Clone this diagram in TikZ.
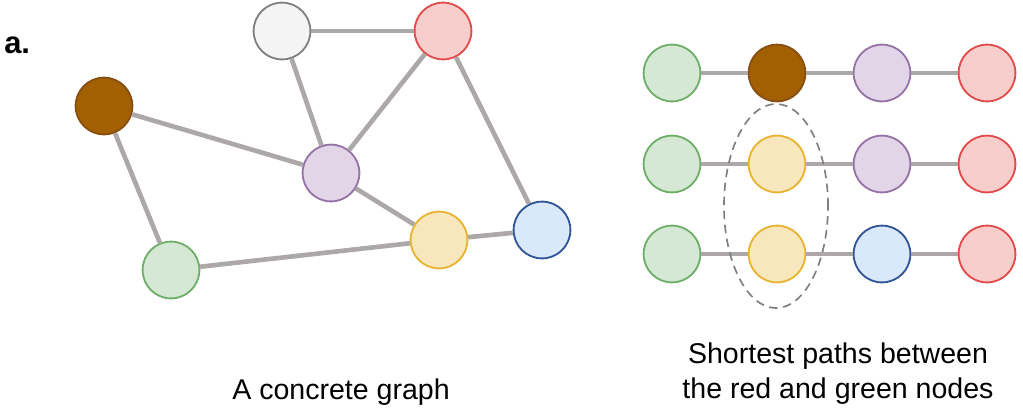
\documentclass[tikz,border=0pt]{standalone}
\usepackage{fontspec}
\setmainfont{Liberation Sans}
\usepackage{tikz}
\usetikzlibrary{positioning}

\definecolor{edgegray}{RGB}{172,168,168}
\definecolor{gryfill}{HTML}{F4F4F4}
\definecolor{gryline}{HTML}{808080}
\definecolor{redfill}{HTML}{F8CECC}
\definecolor{redline}{HTML}{E24B4B}
\definecolor{brnfill}{HTML}{A36000}
\definecolor{brnline}{HTML}{875012}
\definecolor{purfill}{HTML}{E1D5E7}
\definecolor{purline}{HTML}{9673A6}
\definecolor{ylwfill}{HTML}{F8E7BD}
\definecolor{ylwline}{HTML}{E8B330}
\definecolor{blufill}{HTML}{DAE8FC}
\definecolor{bluline}{HTML}{2F5597}
\definecolor{grnfill}{HTML}{D5E8D4}
\definecolor{grnline}{HTML}{6FAE69}

\begin{document}
\begin{tikzpicture}[
    x=0.025cm, y=-0.025cm,
    vtx/.style={circle, minimum size=1.42cm, inner sep=0pt, line width=1.3pt},
    gry/.style={vtx, fill=gryfill, draw=gryline},
    red/.style={vtx, fill=redfill, draw=redline},
    brn/.style={vtx, fill=brnfill, draw=brnline},
    pur/.style={vtx, fill=purfill, draw=purline},
    ylw/.style={vtx, fill=ylwfill, draw=ylwline},
    blu/.style={vtx, fill=blufill, draw=bluline},
    grn/.style={vtx, fill=grnfill, draw=grnline},
    edge/.style={line width=3.3pt, draw=edgegray},
    grp/.style={line width=1.2pt, draw=gryline, dash pattern=on 6pt off 4pt},
    lbl/.style={font=\fontsize{20.3}{24.9}\selectfont, inner sep=0pt},
]
\useasboundingbox (0,0) rectangle (1023,410);

% Panel tag
\node[lbl, font=\fontsize{22}{26}\selectfont\bfseries, anchor=base west] (tag) at (4,53) {a.};

% --- Left: the concrete graph ---
\node[gry] (gG) at (282,31) {};
\node[red] (gR) at (443,31) {};
\node[brn] (gB) at (104,106) {};
\node[pur] (gP) at (331,173) {};
\node[ylw] (gY) at (439,240) {};
\node[blu] (gL) at (542,230) {};
\node[grn] (gN) at (171,270) {};

\draw[edge] (gG) -- (gR);
\draw[edge] (gG) -- (gP);
\draw[edge] (gR) -- (gP);
\draw[edge] (gR) -- (gL);
\draw[edge] (gB) -- (gP);
\draw[edge] (gB) -- (gN);
\draw[edge] (gP) -- (gY);
\draw[edge] (gN) -- (gY);
\draw[edge] (gY) -- (gL);

\node[lbl, anchor=base] (lcap) at (341,399) {A concrete graph};

% --- Right: shortest paths, one per row ---
\foreach \row/\y/\mid/\third in {1/73/brn/pur, 2/164/ylw/pur, 3/254/ylw/blu} {
    \node[grn] (p\row-1) at (672,\y) {};
    \node[\mid] (p\row-2) at (777,\y) {};
    \node[\third] (p\row-3) at (882,\y) {};
    \node[red] (p\row-4) at (987,\y) {};
    \draw[edge] (p\row-1) -- (p\row-2);
    \draw[edge] (p\row-2) -- (p\row-3);
    \draw[edge] (p\row-3) -- (p\row-4);
}

% dashed group round the yellow nodes
\coordinate (grpc) at (776,206);
\draw[grp] (grpc) ellipse [x radius=1.3cm, y radius=2.55cm];

\node[lbl, anchor=base] (rcap1) at (838,363) {Shortest paths between};
\node[lbl, anchor=base] (rcap2) at (838,398) {the red and green nodes};
\end{tikzpicture}
\end{document}
